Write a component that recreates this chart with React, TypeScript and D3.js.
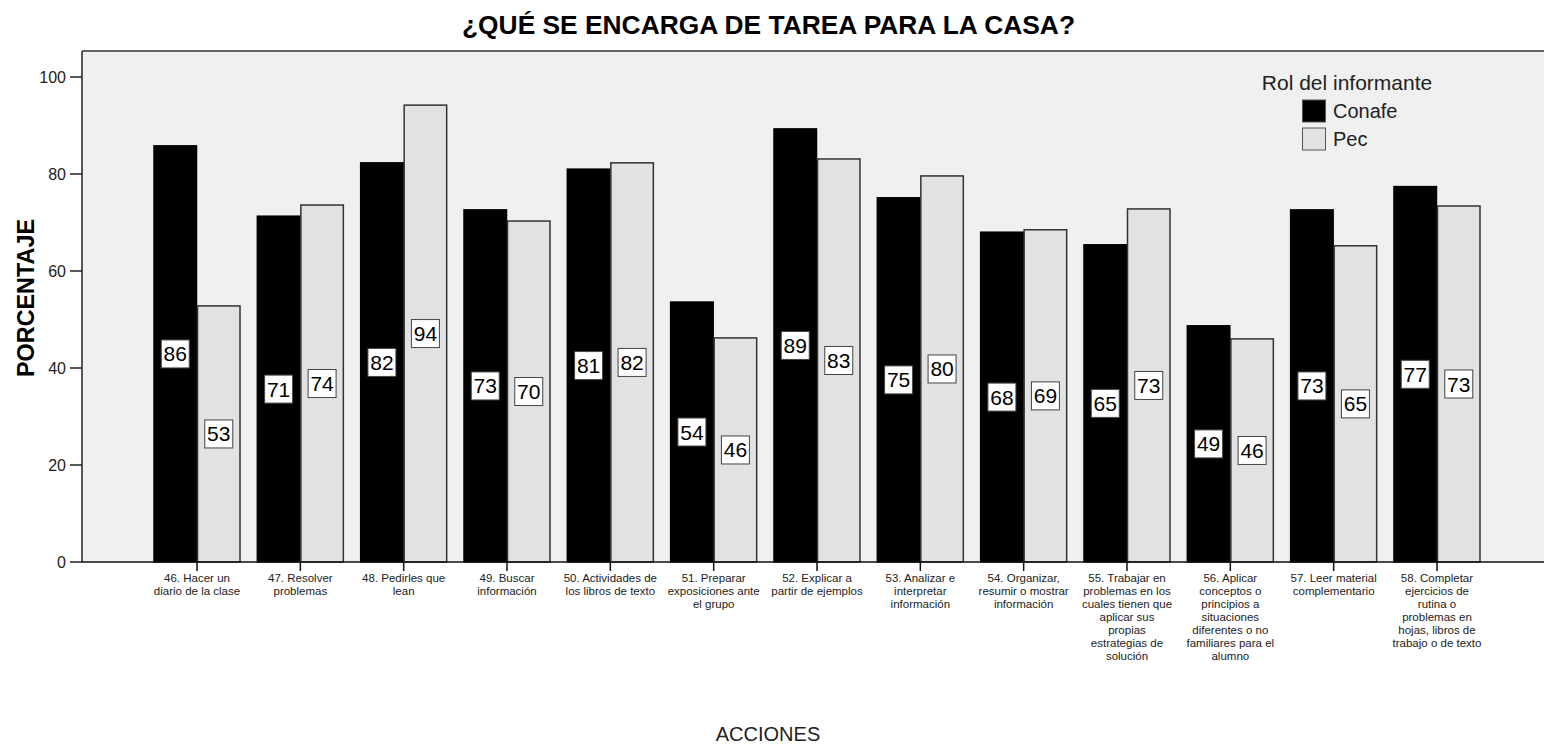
import React from "react";
import * as d3 from "d3";

const categories: string[][] = [
  ["46. Hacer un", "diario de la clase"],
  ["47. Resolver", "problemas"],
  ["48. Pedirles que", "lean"],
  ["49. Buscar", "información"],
  ["50. Actividades de", "los libros de texto"],
  ["51. Preparar", "exposiciones ante", "el grupo"],
  ["52. Explicar a", "partir de ejemplos"],
  ["53. Analizar e", "interpretar", "información"],
  ["54. Organizar,", "resumir o mostrar", "información"],
  ["55. Trabajar en", "problemas en los", "cuales tienen que", "aplicar sus", "propias", "estrategias de", "solución"],
  ["56. Aplicar", "conceptos o", "principios a", "situaciones", "diferentes o no", "familiares para el", "alumno"],
  ["57. Leer material", "complementario"],
  ["58. Completar", "ejercicios de", "rutina o", "problemas en", "hojas, libros de", "trabajo o de texto"],
];
const conafe: number[] = [85.8, 71.3, 82.3, 72.6, 81.0, 53.6, 89.3, 75.1, 68.0, 65.4, 48.7, 72.6, 77.4];
const pec: number[] = [52.8, 73.6, 94.2, 70.3, 82.3, 46.2, 83.1, 79.6, 68.5, 72.8, 46.0, 65.2, 73.4];
const seriesNames = ["Conafe", "Pec"];
const yTicks = [0, 20, 40, 60, 80, 100];

const W = 1544;
const H = 745;
const left = 82;
const right = 1552;
const top = 51;
const bottom = 562;

export default function App() {
  const keys = categories.map((c) => c.join(" "));
  const x = d3.scaleBand<string>().domain(keys).range([left, right]).paddingInner(0.158).paddingOuter(0.692);
  const xs = d3.scaleBand<string>().domain(seriesNames).range([0, x.bandwidth()]).padding(0);
  const y = d3.scaleLinear().domain([0, 100]).range([bottom, 77]);
  const fills: Record<string, string> = { Conafe: "#000000", Pec: "#e2e2e2" };
  const font = "Arial, 'Liberation Sans', sans-serif";

  const bars: { k: string; s: string; v: number }[] = [];
  keys.forEach((k, i) => {
    bars.push({ k, s: "Conafe", v: conafe[i] });
    bars.push({ k, s: "Pec", v: pec[i] });
  });

  return (
    <svg width={W} height={H} style={{ position: "absolute", left: 0, top: 0, background: "#fff" }} fontFamily={font}>
      <text x={768.5} y={34} textAnchor="middle" fontSize={26} fontWeight="bold" fill="#000"
        textLength={613} lengthAdjust="spacingAndGlyphs">
        ¿QUÉ SE ENCARGA DE TAREA PARA LA CASA?
      </text>
      <rect x={left} y={top} width={W - left} height={bottom - top} fill="#f0f0f0" />
      <line x1={left} x2={W} y1={top} y2={top} stroke="#666" strokeWidth={2} />
      {bars.map((b, i) => {
        const bx = (x(b.k) as number) + (xs(b.s) as number);
        const by = y(b.v);
        return (
          <rect
            key={i}
            x={bx + 0.5}
            y={by}
            width={xs.bandwidth() - 1}
            height={bottom - by}
            fill={fills[b.s]}
            stroke={b.s === "Pec" ? "#333" : "#000"}
            strokeWidth={1.5}
          />
        );
      })}
      {bars.map((b, i) => {
        const cx = (x(b.k) as number) + (xs(b.s) as number) + xs.bandwidth() / 2;
        const cy = y(b.v / 2);
        return (
          <g key={"l" + i}>
            <rect x={cx - 14} y={cy - 14} width={28} height={28} fill="#fff" stroke="#444" strokeWidth={1} />
            <text x={cx} y={cy + 7.5} textAnchor="middle" fontSize={21} fill="#000">
              {Math.round(b.v)}
            </text>
          </g>
        );
      })}
      <line x1={left} x2={left} y1={top} y2={bottom} stroke="#222" strokeWidth={1.5} />
      <line x1={left} x2={W} y1={bottom} y2={bottom} stroke="#111" strokeWidth={1.5} />
      {yTicks.map((t) => (
        <g key={t}>
          <line x1={70} x2={left} y1={y(t)} y2={y(t)} stroke="#222" strokeWidth={1.5} />
          <text x={66} y={y(t) + 6} textAnchor="end" fontSize={16} fill="#222">
            {t}
          </text>
        </g>
      ))}
      {keys.map((k, i) => {
        const cx = (x(k) as number) + x.bandwidth() / 2;
        return (
          <g key={"x" + i}>
            <line x1={cx} x2={cx} y1={bottom} y2={bottom + 9} stroke="#111" strokeWidth={1.5} />
            <text textAnchor="middle" fontSize={11.5} fill="#222">
              {categories[i].map((ln, j) => (
                <tspan key={j} x={cx} y={582 + j * 13}>
                  {ln}
                </tspan>
              ))}
            </text>
          </g>
        );
      })}
      <text
        transform={`translate(34, 298) rotate(-90)`}
        textAnchor="middle"
        fontSize={23}
        fontWeight="bold"
        fill="#000"
        textLength={158}
        lengthAdjust="spacingAndGlyphs"
      >
        PORCENTAJE
      </text>
      <text x={768} y={741} textAnchor="middle" fontSize={20} fill="#222">
        ACCIONES
      </text>
      <g>
        <text x={1347} y={90} textAnchor="middle" fontSize={21} fill="#222">
          Rol del informante
        </text>
        {seriesNames.map((s, i) => (
          <g key={s}>
            <rect x={1302.5} y={100 + i * 28} width={23} height={22} fill={fills[s]} stroke="#555" strokeWidth={1} />
            <text x={1333} y={118 + i * 28} fontSize={20} fill="#222">
              {s}
            </text>
          </g>
        ))}
      </g>
    </svg>
  );
}
